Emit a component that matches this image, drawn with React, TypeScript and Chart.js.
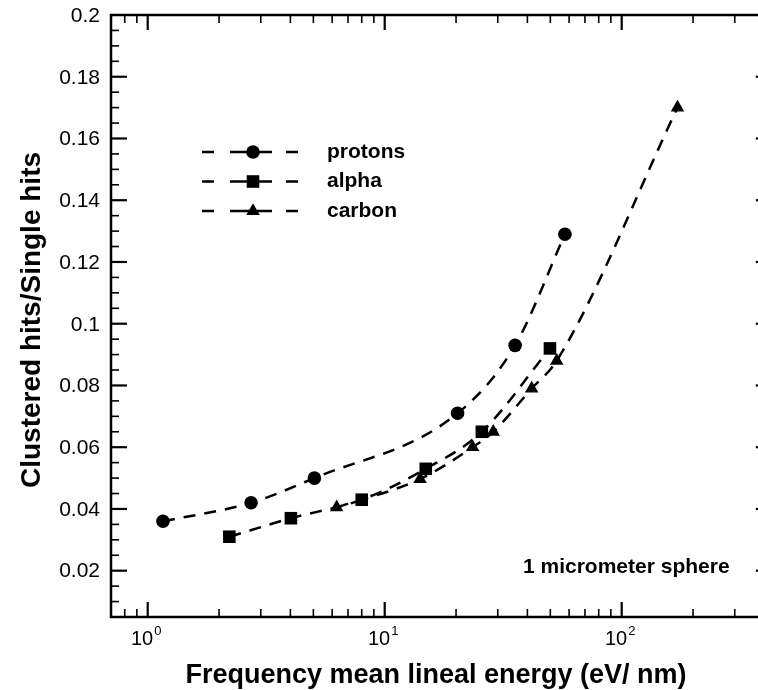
import React, { useEffect, useRef } from 'react';
import Chart from 'chart.js/auto';

// ---- data ----
const protonsX = [1.16, 2.73, 5.05, 20.3, 35.5, 57.6];
const protonsY = [0.036, 0.042, 0.05, 0.071, 0.093, 0.129];

const alphaX = [2.21, 4.02, 8.0, 14.9, 25.7, 49.8];
const alphaY = [0.031, 0.037, 0.043, 0.053, 0.065, 0.092];

const carbonX = [6.27, 14.1, 23.5, 28.7, 41.7, 53.2, 172];
const carbonY = [0.0405, 0.0497, 0.06, 0.065, 0.079, 0.088, 0.17];

const seriesNames = ['protons', 'alpha', 'carbon'];
const seriesMarkers = ['circle', 'rect', 'triangle'];

const yMajorTicks = [0.02, 0.04, 0.06, 0.08, 0.1, 0.12, 0.14, 0.16, 0.18, 0.2];
const yTickLabels = ['0.02', '0.04', '0.06', '0.08', '0.1', '0.12', '0.14', '0.16', '0.18', '0.2'];
const xDecades = [1, 10, 100];
const xTickExponents = ['0', '1', '2'];

const xTitle = 'Frequency mean lineal energy (eV/ nm)';
const yTitle = 'Clustered hits/Single hits';
const noteText = '1 micrometer sphere';

// visible x range (the plot frame's right side, at 430, lies just past the window edge)
const X_MIN = 0.7;
const X_MAX = 376;
const X_FRAME_MAX = 430;
const Y_MIN = 0.005;
const Y_MAX = 0.2;

const CANVAS_W = 758;
const CANVAS_H = 690;

const FONT = '"Liberation Sans", Arial, Helvetica, sans-serif';

function drawMarker(ctx: CanvasRenderingContext2D, style: string, x: number, y: number) {
  ctx.beginPath();
  if (style === 'circle') {
    ctx.arc(x, y, 6.8, 0, Math.PI * 2);
  } else if (style === 'rect') {
    ctx.rect(x - 6.3, y - 6.3, 12.6, 12.6);
  } else {
    const r = 7.8;
    ctx.moveTo(x, y - r);
    ctx.lineTo(x + r * Math.sin((2 * Math.PI) / 3), y - r * Math.cos((2 * Math.PI) / 3));
    ctx.lineTo(x + r * Math.sin((4 * Math.PI) / 3), y - r * Math.cos((4 * Math.PI) / 3));
    ctx.closePath();
  }
  ctx.fill();
}

const decorPlugin = {
  id: 'decor',
  afterDraw(chart: any) {
    const { ctx, chartArea: a, scales } = chart;
    const xs = scales.x;
    const ys = scales.y;
    const frameRight = xs.getPixelForValue(X_FRAME_MAX);
    ctx.save();
    ctx.strokeStyle = '#000';
    ctx.fillStyle = '#000';

    const seg = (x1: number, y1: number, x2: number, y2: number) => {
      ctx.beginPath();
      ctx.moveTo(x1, y1);
      ctx.lineTo(x2, y2);
      ctx.stroke();
    };

    // frame
    ctx.lineWidth = 2.5;
    ctx.strokeRect(a.left, a.top, frameRight - a.left, a.bottom - a.top);

    // y ticks (inward, left and right)
    for (let i = 1; i <= 40; i++) {
      const v = i / 200;
      if (v <= Y_MIN + 1e-9 || v >= Y_MAX - 1e-9) continue;
      const py = ys.getPixelForValue(v);
      const major = i % 4 === 0;
      const len = major ? 16 : 8;
      ctx.lineWidth = major ? 2.2 : 1.6;
      seg(a.left, py, a.left + len, py);
      seg(frameRight, py, frameRight - len, py);
    }
    // x ticks (inward, bottom and top)
    for (const d of [0.1, 1, 10, 100]) {
      for (let m = 1; m <= 9; m++) {
        const v = m * d;
        if (v <= X_MIN || v >= X_FRAME_MAX) continue;
        const px = xs.getPixelForValue(v);
        const major = m === 1;
        const len = major ? 15 : 8;
        ctx.lineWidth = major ? 2.2 : 1.6;
        seg(px, a.bottom, px, a.bottom - len);
        seg(px, a.top, px, a.top + len);
      }
    }

    // y tick labels
    ctx.font = `21px ${FONT}`;
    ctx.textAlign = 'right';
    ctx.textBaseline = 'middle';
    yMajorTicks.forEach((v, i) => {
      ctx.fillText(yTickLabels[i], a.left - 11, ys.getPixelForValue(v) + 1);
    });

    // x tick labels with superscripts
    ctx.textAlign = 'left';
    ctx.textBaseline = 'alphabetic';
    xDecades.forEach((v, i) => {
      const px = xs.getPixelForValue(v);
      ctx.font = `20px ${FONT}`;
      const w1 = ctx.measureText('10').width;
      ctx.font = `13px ${FONT}`;
      const w2 = ctx.measureText(xTickExponents[i]).width;
      const start = px - (w1 + w2) / 2 - 2;
      ctx.font = `20px ${FONT}`;
      ctx.fillText('10', start, a.bottom + 28);
      ctx.font = `13px ${FONT}`;
      ctx.fillText(xTickExponents[i], start + w1 + 1, a.bottom + 18);
    });

    // axis titles
    ctx.font = `bold 27px ${FONT}`;
    ctx.textAlign = 'center';
    ctx.textBaseline = 'alphabetic';
    ctx.fillText(xTitle, 436, 683);

    ctx.save();
    ctx.font = `bold 28px ${FONT}`;
    ctx.translate(32, 320);
    ctx.rotate(-Math.PI / 2);
    ctx.textBaseline = 'middle';
    ctx.fillText(yTitle, 0, 0);
    ctx.restore();

    // legend
    ctx.lineWidth = 2.5;
    seriesNames.forEach((name, i) => {
      const ry = 152 + i * 29.5;
      seg(202, ry, 214, ry);
      seg(230, ry, 272, ry);
      seg(286, ry, 298, ry);
      drawMarker(ctx, seriesMarkers[i], 253, ry);
      ctx.font = `bold 21px ${FONT}`;
      ctx.textAlign = 'left';
      ctx.textBaseline = 'middle';
      ctx.fillText(name, 327, ry);
    });

    // note
    ctx.font = `bold 21px ${FONT}`;
    ctx.textAlign = 'left';
    ctx.textBaseline = 'alphabetic';
    ctx.fillText(noteText, 523, 573);

    ctx.restore();
  },
};

function pts(xs: number[], ys: number[]) {
  return xs.map((x, i) => ({ x, y: ys[i] }));
}

export default function App() {
  const ref = useRef<HTMLCanvasElement>(null);
  useEffect(() => {
    if (!ref.current) return;
    const common = {
      borderColor: '#000',
      backgroundColor: '#000',
      pointBackgroundColor: '#000',
      pointBorderColor: '#000',
      pointBorderWidth: 0,
      borderWidth: 2.5,
      borderDash: [12, 9],
      cubicInterpolationMode: 'monotone' as const,
      fill: false,
    };
    const chart = new Chart(ref.current, {
      type: 'line',
      data: {
        datasets: [
          { ...common, label: seriesNames[0], data: pts(protonsX, protonsY), pointStyle: 'circle', pointRadius: 6.8 },
          { ...common, label: seriesNames[1], data: pts(alphaX, alphaY), pointStyle: 'rect', pointRadius: 8.9 },
          { ...common, label: seriesNames[2], data: pts(carbonX, carbonY), pointStyle: 'triangle', pointRadius: 7.8 },
        ],
      },
      options: {
        responsive: false,
        animation: false,
        devicePixelRatio: 1,
        layout: { autoPadding: false, padding: { left: 111, top: 15, right: 0, bottom: 73 } },
        plugins: { legend: { display: false }, tooltip: { enabled: false } },
        events: [],
        scales: {
          x: { type: 'logarithmic', min: X_MIN, max: X_MAX, display: false },
          y: { type: 'linear', min: Y_MIN, max: Y_MAX, display: false },
        },
      },
      plugins: [decorPlugin],
    });
    return () => chart.destroy();
  }, []);
  return (
    <div style={{ position: 'fixed', left: 0, top: 0, width: CANVAS_W, height: CANVAS_H, overflow: 'hidden', background: '#fff' }}>
      <canvas ref={ref} width={CANVAS_W} height={CANVAS_H} style={{ width: CANVAS_W, height: CANVAS_H, display: 'block' }} />
    </div>
  );
}
